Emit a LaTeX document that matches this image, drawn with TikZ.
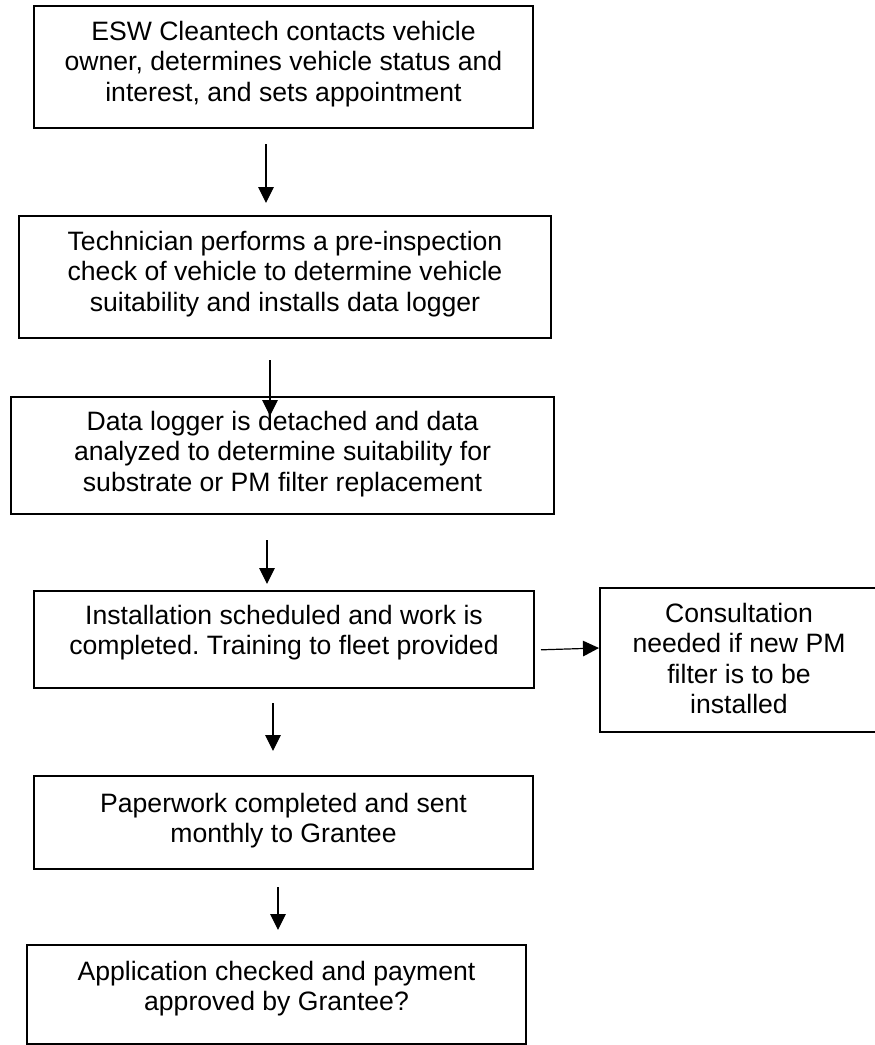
\documentclass[tikz,border=0pt]{standalone}
\usepackage{fontspec}
\setmainfont{Liberation Sans}
\usetikzlibrary{arrows.meta,calc}
\frenchspacing
\begin{document}
\begin{tikzpicture}[x=1bp,y=-1bp,
  boxshape/.style={draw, line width=2bp, rectangle, inner sep=0pt},
  boxtext/.style={align=center, inner sep=0pt, anchor=north, font=\fontsize{26.6bp}{30.5bp}\selectfont},
  arr/.style={-{Triangle[length=16bp,width=15.5bp]}, line width=1.2bp}]
\clip (0,0) rectangle (875,1045);
% boxes
\node[boxshape, minimum width=499bp, minimum height=122bp] (b1) at (283.5,67) {};
\node[boxshape, minimum width=532bp, minimum height=122bp] (b2) at (285,277) {};
\node[boxshape, minimum width=543bp, minimum height=117bp] (b3) at (282.5,455.5) {};
\node[boxshape, minimum width=500bp, minimum height=97bp] (b4) at (284,639.5) {};
\node[boxshape, minimum width=278bp, minimum height=144bp] (b5) at (739,660) {};
\node[boxshape, minimum width=499bp, minimum height=93bp] (b6) at (283.5,822.5) {};
\node[boxshape, minimum width=499bp, minimum height=99bp] (b7) at (276.5,994.5) {};
% texts
\node[boxtext] (t1) at (283.5,21) {ESW Cleantech contacts vehicle\\owner, determines vehicle status and\\interest, and sets appointment};
\node[boxtext] (t2) at (285,231) {Technician performs a pre-inspection\\check of vehicle to determine vehicle\\suitability and installs data logger};
\node[boxtext] (t3) at (282.5,411) {Data logger is detached and data\\analyzed to determine suitability for\\substrate or PM filter replacement};
\node[boxtext] (t4) at (284,605) {Installation scheduled and work is\\completed. Training to fleet provided};
\node[boxtext] (t5) at (739,603) {Consultation\\needed if new PM\\filter is to be\\installed};
\node[boxtext] (t6) at (283.5,793) {Paperwork completed and sent\\monthly to Grantee};
\node[boxtext] (t7) at (276.5,961) {Application checked and payment\\approved by Grantee?};
% arrow columns
\coordinate (x1) at (266,0);
\coordinate (x2) at (270,0);
\coordinate (x3) at (267,0);
\coordinate (x4) at (273,0);
\coordinate (x5) at (278,0);
\coordinate (h1) at (0,650);
\coordinate (h2) at (0,648);
\draw[arr, shorten <=15bp, shorten >=12bp] (b1.south -| x1) -- (b2.north -| x1);
\draw[arr, shorten <=21bp, shorten >=-20bp] (b2.south -| x2) -- (b3.north -| x2);
\draw[arr, shorten <=25bp, shorten >=6bp] (b3.south -| x3) -- (b4.north -| x3);
\draw[arr, shorten <=14bp, shorten >=24bp] (b4.south -| x4) -- (b6.north -| x4);
\draw[arr, shorten <=17bp, shorten >=14bp] (b6.south -| x5) -- (b7.north -| x5);
\draw[arr, shorten <=6bp] (b4.east |- h1) -- (b5.west |- h2);
\end{tikzpicture}
\end{document}
